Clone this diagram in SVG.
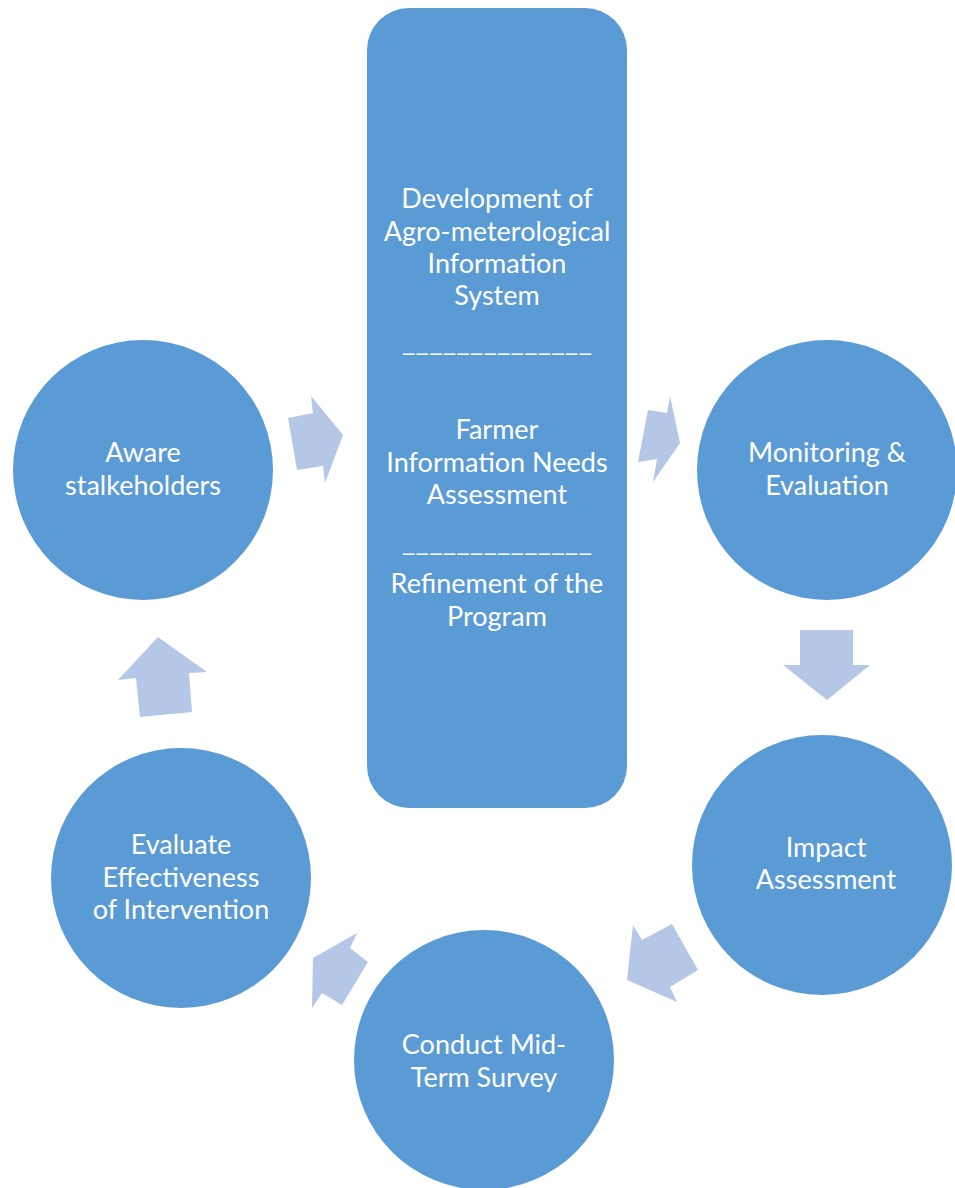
<svg xmlns="http://www.w3.org/2000/svg" width="955" height="1188" viewBox="0 0 955 1188">
<style>
.node{fill:#5B9BD5;}
.arr{fill:#B4C7E7;}
text{font-family:Lato,"Liberation Sans",sans-serif;font-size:27px;fill:#FFFFFF;text-anchor:middle;}
</style>
<rect width="955" height="1188" fill="#FFFFFF"/>
<g id="connectors">
<polygon class="arr" points="288,418 313,413 311,396 343,435 325,483 323,466 297,470"/>
<polygon class="arr" points="648,410 667,413 670,396 680,443 653,482 657,459 638,462"/>
<polygon class="arr" points="800,630 853,630 853,665 870,665 827,700 783,665 800,665"/>
<polygon class="arr" points="627,980 633,925 642,940 672,924 698,970 670,987 677,1002"/>
<polygon class="arr" points="313,958 357,933 350,948 368,962 342,1005 322,993 312,1008"/>
<polygon class="arr" points="158,637 207,672 189,673 192,712 140,717 136,678 118,680"/>
</g>
<g id="center">
<rect class="node" x="367" y="8" width="260" height="800" rx="42" ry="42"/>
<text x="497" y="208">Development of</text>
<text x="497" y="241">Agro-meterological</text>
<text x="497" y="273">Information</text>
<text x="497" y="305">System</text>
<text x="497" y="351" textLength="190" lengthAdjust="spacingAndGlyphs">______________</text>
<text x="497" y="439">Farmer</text>
<text x="497" y="472">Information Needs</text>
<text x="497" y="504">Assessment</text>
<text x="497" y="551" textLength="190" lengthAdjust="spacingAndGlyphs">______________</text>
<text x="497" y="593">Refinement of the</text>
<text x="497" y="626">Program</text>
</g>
<g id="aware">
<circle class="node" cx="143" cy="470" r="130"/>
<text x="143" y="462">Aware</text>
<text x="143" y="495">stalkeholders</text>
</g>
<g id="monitoring">
<circle class="node" cx="827" cy="470" r="130"/>
<text x="827" y="462">Monitoring &amp;</text>
<text x="827" y="495">Evaluation</text>
</g>
<g id="impact">
<circle class="node" cx="822" cy="865" r="130"/>
<text x="826" y="857">Impact</text>
<text x="826" y="889">Assessment</text>
</g>
<g id="survey">
<circle class="node" cx="484" cy="1060" r="130"/>
<text x="484" y="1054">Conduct Mid-</text>
<text x="484" y="1087">Term Survey</text>
</g>
<g id="evaluate">
<circle class="node" cx="181" cy="878" r="130"/>
<text x="181" y="854">Evaluate</text>
<text x="181" y="887">Effectiveness</text>
<text x="181" y="919">of Intervention</text>
</g>
</svg>
